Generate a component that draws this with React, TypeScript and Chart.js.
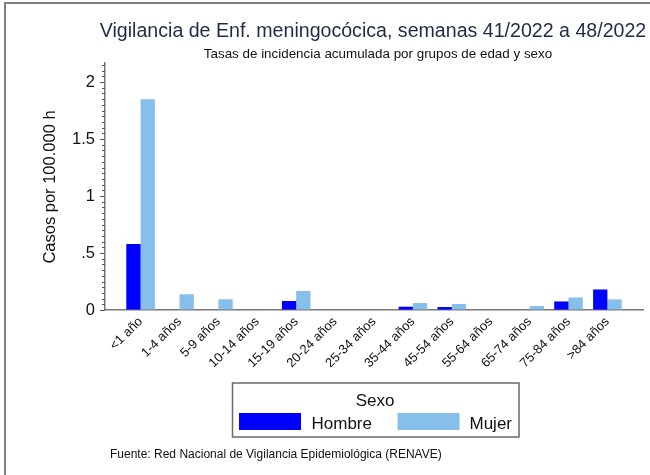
import React, { useEffect, useRef } from "react";
import { Chart, registerables } from "chart.js";

Chart.register(...registerables);

const categories = [
  "<1 año", "1-4 años", "5-9 años", "10-14 años", "15-19 años", "20-24 años",
  "25-34 años", "35-44 años", "45-54 años", "55-64 años", "65-74 años",
  "75-84 años", ">84 años",
];
const hombre = [0.58, 0, 0, 0, 0.079, 0, 0, 0.029, 0.026, 0, 0, 0.075, 0.18];
const mujer = [1.85, 0.138, 0.094, 0, 0.167, 0, 0, 0.061, 0.053, 0, 0.035, 0.11, 0.093];
const seriesNames = ["Hombre", "Mujer"];
const seriesColors = ["#0000FF", "#86BFE9"];
const yTickValues = [0, 0.5, 1, 1.5, 2];

const TITLE = "Vigilancia de Enf. meningocócica, semanas 41/2022 a 48/2022";
const SUBTITLE = "Tasas de incidencia acumulada por grupos de edad y sexo";
const YTITLE = "Casos por 100.000 h";
const LEGEND_TITLE = "Sexo";
const FOOTER = "Fuente: Red Nacional de Vigilancia Epidemiológica (RENAVE)";

const FONT = "'Liberation Sans', Arial, sans-serif";

const decorPlugin = {
  id: "decor",
  afterDraw(chart: any) {
    const ctx = chart.ctx;
    const y = chart.scales.y;
    const area = chart.chartArea;
    ctx.save();
    // outer frame (left & top)
    ctx.fillStyle = "#808080";
    ctx.fillRect(4, 2, 2, 473);
    ctx.fillRect(4, 2, 646, 2);

    // minor ticks on y axis
    ctx.strokeStyle = "#555";
    ctx.lineWidth = 1;
    for (let i = 1; i * 0.05 <= y.max + 1e-9; i++) {
      if (i % 10 === 0) continue;
      const py = Math.round(y.getPixelForValue(i * 0.05)) + 0.5;
      ctx.beginPath();
      ctx.moveTo(area.left - 3, py);
      ctx.lineTo(area.left, py);
      ctx.stroke();
    }

    // titles
    ctx.textAlign = "center";
    ctx.textBaseline = "middle";
    ctx.fillStyle = "#1e2b48";
    ctx.font = `19.6px ${FONT}`;
    ctx.fillText(TITLE, 373, 32);
    ctx.fillStyle = "#111";
    ctx.font = `13.4px ${FONT}`;
    ctx.fillText(SUBTITLE, 378, 54);

    // y title
    ctx.save();
    ctx.translate(50, 187);
    ctx.rotate(-Math.PI / 2);
    ctx.fillStyle = "#111";
    ctx.font = `16.5px ${FONT}`;
    ctx.fillText(YTITLE, 0, 0);
    ctx.restore();

    // legend box
    ctx.strokeStyle = "#6a6a6a";
    ctx.lineWidth = 1.5;
    ctx.strokeRect(232.5, 383, 286.5, 54);
    ctx.fillStyle = "#111";
    ctx.font = `17px ${FONT}`;
    ctx.fillText(LEGEND_TITLE, 375, 401);
    const swX = [239, 397.5];
    const txX = [311.5, 469.5];
    chart.data.datasets.forEach((ds: any, i: number) => {
      ctx.fillStyle = ds.backgroundColor;
      ctx.fillRect(swX[i], 413, 62, 17);
      ctx.fillStyle = "#111";
      ctx.textAlign = "left";
      ctx.fillText(ds.label, txX[i], 424);
    });

    // footer
    ctx.textAlign = "left";
    ctx.font = `12px ${FONT}`;
    ctx.fillStyle = "#111";
    ctx.fillText(FOOTER, 110, 455);
    ctx.restore();
  },
};

export default function App() {
  const ref = useRef<HTMLCanvasElement | null>(null);
  useEffect(() => {
    document.body.style.margin = "0";
    const canvas = ref.current;
    if (!canvas) return;
    const chart = new Chart(canvas, {
      type: "bar",
      data: {
        datasets: [
          {
            label: seriesNames[0],
            data: hombre.map((v, i) => ({ x: i, y: v })),
            backgroundColor: seriesColors[0],
            borderWidth: 0,
          },
          {
            label: seriesNames[1],
            data: mujer.map((v, i) => ({ x: i, y: v })),
            backgroundColor: seriesColors[1],
            borderWidth: 0,
          },
        ],
      },
      options: {
        responsive: false,
        animation: false,
        events: [],
        datasets: { bar: { categoryPercentage: 0.735, barPercentage: 1 } },
        layout: { padding: { top: 63, right: 7, left: 0, bottom: 0 } },
        plugins: {
          legend: { display: false },
          title: { display: false },
          tooltip: { enabled: false },
        },
        scales: {
          x: {
            type: "linear",
            offset: false,
            min: -0.915,
            max: categories.length - 1 + 0.915,
            afterFit: (s: any) => {
              s.height = 165;
              s.paddingLeft = 0;
              s.paddingRight = 0;
            },
            afterBuildTicks: (s: any) => {
              s.ticks = categories.map((_, i) => ({ value: i }));
            },
            ticks: {
              autoSkip: false,
              minRotation: 45,
              maxRotation: 45,
              padding: 4,
              color: "#111",
              font: { family: FONT, size: 13 },
              callback: (v: any) => categories[Math.round(Number(v))] ?? "",
            },
            grid: { display: false, drawTicks: false, offset: false },
            border: { display: true, color: "#777", width: 1.5 },
          },
          y: {
            min: 0,
            max: 2.167,
            afterFit: (s: any) => {
              s.width = 105;
              s.paddingTop = 0;
              s.paddingBottom = 0;
            },
            afterBuildTicks: (s: any) => {
              s.ticks = yTickValues.map((v) => ({ value: v }));
            },
            ticks: {
              padding: 5,
              color: "#111",
              font: { family: FONT, size: 16.5 },
              callback: (v: any) => {
                const n = Number(v);
                return n > 0 && n < 1 ? String(n).replace(/^0/, "") : String(n);
              },
            },
            grid: { drawOnChartArea: false, tickLength: 5, color: "#555" },
            border: { display: true, color: "#777", width: 1.5 },
          },
        },
      },
      plugins: [decorPlugin],
    });
    return () => chart.destroy();
  }, []);
  return (
    <div style={{ position: "absolute", left: 0, top: 0, width: 650, height: 475, background: "#fff" }}>
      <canvas ref={ref} width={650} height={475} />
    </div>
  );
}
